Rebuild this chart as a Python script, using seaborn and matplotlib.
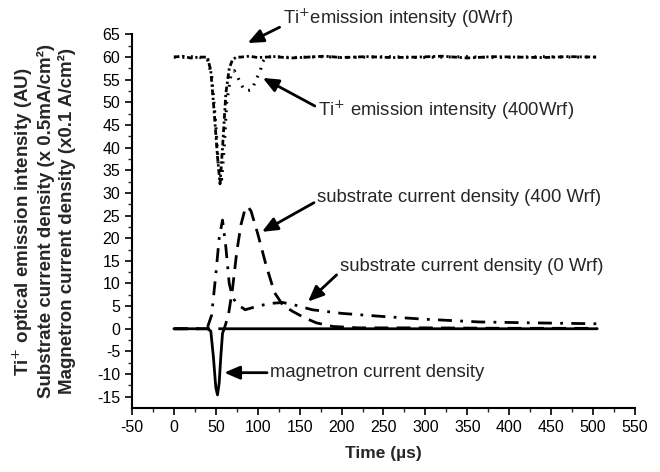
import numpy as np
import pandas as pd
import matplotlib
matplotlib.use("Agg")
import matplotlib.pyplot as plt
import seaborn as sns

# ---- data ----
t_ti0 = [0, 10, 20, 30, 40, 44, 48, 52, 55, 58, 62, 66, 70, 75, 80, 90, 100, 120, 140, 160, 180, 200,
         230, 260, 290, 320, 350, 380, 410, 440, 470, 505]
ti_0wrf = [60, 60.2, 59.8, 60, 60, 57, 48, 38, 32, 40, 52, 57.5, 59.5, 60, 60, 60.2, 59.9, 60.1, 59.8, 60,
           60.2, 59.9, 60.1, 59.9, 60, 60.2, 59.8, 60.1, 60, 59.9, 60.1, 60]

t_ti400 = [0, 10, 20, 30, 40, 45, 50, 53, 57, 60, 63, 68, 72, 76, 80, 84, 88, 93, 98, 103, 106, 110,
           120, 140, 160, 180, 200, 230, 260, 290, 320, 350, 380, 410, 440, 470, 505]
ti_400wrf = [60, 59.9, 60.1, 60, 59.5, 56, 45, 36, 33, 40, 50, 56, 57, 55.6, 54, 52.8, 52.6, 52.8, 55, 57,
             59, 60, 60.1, 59.9, 60, 60.1, 59.9, 60, 60.1, 59.9, 60, 60.1, 59.9, 60, 60.1, 60, 60]

t_sub0 = [0, 30, 40, 45, 50, 54, 58, 62, 66, 70, 75, 85, 100, 115, 130, 145, 165, 200, 250, 300, 365, 430, 505]
sub_0wrf = [0, 0, 0.3, 3, 12, 20, 24, 18, 10, 7, 5.5, 4.2, 5, 5.6, 5.8, 5.2, 4.2, 3.4, 2.7, 2.1, 1.5, 1.3, 1.1]

t_sub400 = [0, 40, 60, 65, 70, 75, 80, 85, 88, 92, 100, 110, 120, 130, 142, 155, 170, 190, 220, 300, 400, 505]
sub_400wrf = [0, 0, 0, 3, 9, 17, 23, 26.5, 27, 26, 21, 14, 8, 5.2, 3.8, 2.5, 1.3, 0.5, 0.2, 0.2, 0.1, 0.1]

t_mag = [0, 40, 44, 47, 50, 52, 54, 56, 58, 60, 100, 200, 300, 400, 505]
mag = [0, 0, -0.5, -6, -13, -14.6, -12, -6, -1, 0, 0, 0, 0, 0, 0]

x_ticks = list(range(-50, 551, 50))
y_ticks = list(range(-15, 66, 5))

# ---- figure ----
sns.set_style("ticks")
plt.rcParams['font.family'] = ['Liberation Sans', 'DejaVu Sans']
plt.rcParams['axes.unicode_minus'] = False

fig = plt.figure(figsize=(6.6, 4.72), dpi=100)
ax = fig.add_axes([0.2, 0.1356, 0.762, 0.7914])

sns.lineplot(x=t_ti0, y=ti_0wrf, ax=ax, color='black', lw=2.0, linestyle=(0, (2.0, 1.0, 0.8, 1.0)))
sns.lineplot(x=t_ti400, y=ti_400wrf, ax=ax, color='black', lw=2.2, linestyle=(0, (0.6, 2.2)))
sns.lineplot(x=t_sub0, y=sub_0wrf, ax=ax, color='black', lw=2.0, linestyle=(0, (5, 3, 1, 3)))
sns.lineplot(x=t_sub400, y=sub_400wrf, ax=ax, color='black', lw=2.0, linestyle=(0, (5, 3)))
sns.lineplot(x=t_mag, y=mag, ax=ax, color='black', lw=2.0)

ax.set_xlim(-50, 550)
ax.set_ylim(-17.5, 65)
ax.set_xticks(x_ticks)
ax.set_yticks(y_ticks)
ax.set_xticks(np.arange(-25, 550, 50), minor=True)
ax.set_yticks(np.arange(-12.5, 65, 5), minor=True)
ax.tick_params(axis='both', which='major', direction='out', length=5, width=1.2, labelsize=11.5, colors='black')
ax.tick_params(axis='both', which='minor', direction='out', length=3, width=1.0)
for s in ['top', 'right']:
    ax.spines[s].set_visible(False)
for s in ['left', 'bottom']:
    ax.spines[s].set_linewidth(1.5)
    ax.spines[s].set_color('black')

ax.set_xlabel('Time (µs)', fontsize=12.5, fontweight='bold', labelpad=8)
ax.set_ylabel('Ti$^{+}$ optical emission intensity (AU)\n'
              'Substrate current density (x 0.5mA/cm²)\n'
              'Magnetron current density (x0.1 A/cm²)',
              fontsize=13.5, fontweight='bold', labelpad=15, linespacing=1.2)

arrow = dict(arrowstyle='-|>,head_length=0.7,head_width=0.3', color='black', lw=2.0, shrinkA=0, shrinkB=0)
fs = 13.3
ax.annotate('Ti$^{+}$emission intensity (0Wrf)', xy=(88, 63.1), xytext=(130, 68.5),
            fontsize=fs, va='center', ha='left', arrowprops=dict(arrow, relpos=(0, 0.2)),
            annotation_clip=False)
ax.annotate('Ti$^{+}$ emission intensity (400Wrf)', xy=(106, 55.4), xytext=(172, 48.3),
            fontsize=fs, va='center', ha='left', arrowprops=dict(arrow, relpos=(0, 0.6)))
ax.annotate('substrate current density (400 Wrf)', xy=(105, 21.4), xytext=(171, 29),
            fontsize=fs, va='center', ha='left', arrowprops=dict(arrow, relpos=(0, 0.3)))
ax.annotate('substrate current density (0 Wrf)', xy=(160, 6), xytext=(198, 13.7),
            fontsize=fs, va='center', ha='left', arrowprops=dict(arrow, relpos=(0, 0.2)))
ax.annotate('magnetron current density', xy=(60, -9.7), xytext=(115, -9.7),
            fontsize=fs, va='center', ha='left', arrowprops=dict(arrow, relpos=(0, 0.5)))

fig.savefig('out.png', dpi=100)
